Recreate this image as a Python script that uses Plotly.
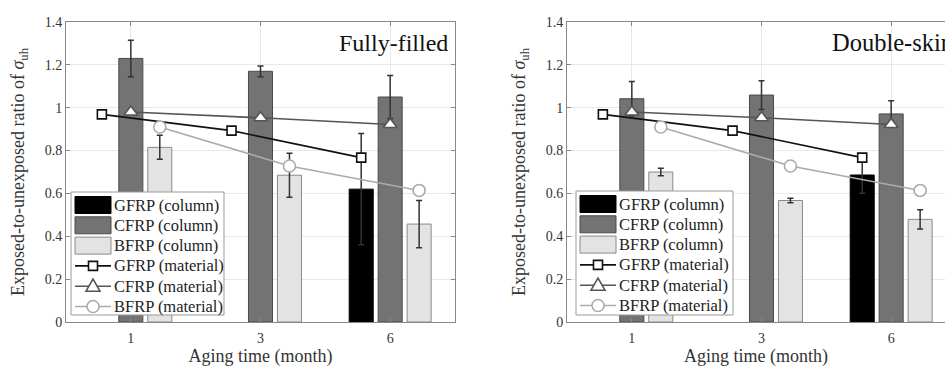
import plotly.graph_objects as go

# ---------------- data ----------------
months = ["1", "3", "6"]
x_idx = [1, 2, 3]

# Fully-filled columns
ff_gfrp_col = [None, None, 0.62]
ff_gfrp_err = [None, None, 0.26]
ff_cfrp_col = [1.23, 1.17, 1.05]
ff_cfrp_err = [0.085, 0.025, 0.10]
ff_bfrp_col = [0.815, 0.685, 0.457]
ff_bfrp_err = [0.056, 0.103, 0.11]

# Double-skin columns
ds_gfrp_col = [None, None, 0.686]
ds_gfrp_err = [None, None, 0.085]
ds_cfrp_col = [1.042, 1.059, 0.971]
ds_cfrp_err = [0.08, 0.067, 0.062]
ds_bfrp_col = [0.70, 0.567, 0.479]
ds_bfrp_err = [0.018, 0.011, 0.045]

# Material (coupon) results
gfrp_mat = [0.969, 0.893, 0.767]
cfrp_mat = [0.98, 0.953, 0.922]
bfrp_mat = [0.91, 0.728, 0.614]

legend_names = ["GFRP (column)", "CFRP (column)", "BFRP (column)",
                "GFRP (material)", "CFRP (material)", "BFRP (material)"]

# ---------------- styling ----------------
FONT = "Liberation Serif"
BARGAP = 0.33
OFF = (1 - BARGAP) / 3.0
C_G, C_C, C_B = "#000000", "#737373", "#e3e3e3"
E_G, E_C, E_B = "#000000", "#4a4a4a", "#8a8a8a"
L_G, L_C, L_B = "#111111", "#555555", "#ababab"
ERR = "#333333"

W, H = 945, 367
TOP, BOT = 22, 322          # plot area top/bottom in px
fig = go.Figure()

panels = [
    dict(xa="x", ya="y",
         g=ff_gfrp_col, ge=ff_gfrp_err, c=ff_cfrp_col, ce=ff_cfrp_err,
         b=ff_bfrp_col, be=ff_bfrp_err),
    dict(xa="x2", ya="y2",
         g=ds_gfrp_col, ge=ds_gfrp_err, c=ds_cfrp_col, ce=ds_cfrp_err,
         b=ds_bfrp_col, be=ds_bfrp_err),
]

for p in panels:
    for name, vals, errs, fill, edge in [
        (legend_names[0], p["g"], p["ge"], C_G, E_G),
        (legend_names[1], p["c"], p["ce"], C_C, E_C),
        (legend_names[2], p["b"], p["be"], C_B, E_B),
    ]:
        fig.add_trace(go.Bar(
            x=x_idx, y=vals, name=name, xaxis=p["xa"], yaxis=p["ya"],
            showlegend=False,
            marker=dict(color=fill, line=dict(color=edge, width=1)),
            error_y=dict(type="data", array=errs, visible=True,
                         color=ERR, thickness=1.5, width=3),
        ))
    for name, vals, dx, col, sym, msize in [
        (legend_names[3], gfrp_mat, -OFF, L_G, "square", 9),
        (legend_names[4], cfrp_mat, 0.0, L_C, "triangle-up", 12),
        (legend_names[5], bfrp_mat, OFF, L_B, "circle", 12),
    ]:
        fig.add_trace(go.Scatter(
            x=[v + dx for v in x_idx], y=vals, name=name, mode="lines+markers",
            xaxis=p["xa"], yaxis=p["ya"], showlegend=False,
            line=dict(color=col, width=1.6),
            marker=dict(symbol=sym, size=msize, color="white",
                        line=dict(color=col, width=1.6)),
        ))

x1_dom = [66 / W, 455 / W]
x2_dom = [567 / W, 1.0]
px_per_unit = (455 - 66) / 3.0
x2_max = 0.5 + (945 - 567) / px_per_unit

axis_common = dict(
    showline=True, linecolor="#888888", linewidth=1,
    ticks="inside", ticklen=4, tickcolor="#888888",
    showgrid=True, gridcolor="#e8e8e8", gridwidth=1,
    tickfont=dict(family=FONT, size=14, color="#333333"),
    zeroline=False, automargin=False,
)


# ---------------- helpers: px -> paper fraction ----------------
def px(x):
    return x / W


def py(y):
    return (BOT - y) / (BOT - TOP)


shapes = []
annotations = []
legend_styles = [
    ("bar", C_G, E_G, None),
    ("bar", C_C, E_C, None),
    ("bar", C_B, E_B, None),
    ("line", L_G, L_G, "square"),
    ("line", L_C, L_C, "triangle"),
    ("line", L_B, L_B, "circle"),
]
for bx0, by0, bx1, by1, row0 in [(71, 192, 224, 315, 205.0),
                                  (576, 191, 733, 315, 204.0)]:
    shapes.append(dict(type="rect", xref="paper", yref="paper",
                       x0=px(bx0), x1=px(bx1), y0=py(by1), y1=py(by0),
                       fillcolor="white", line=dict(color="#999999", width=1),
                       layer="above"))
    sx0, sx1 = bx0 + 4, bx0 + 40
    sxc = (sx0 + sx1) / 2
    for i, (name, (kind, fill, edge, mk)) in enumerate(zip(legend_names, legend_styles)):
        yc = row0 + i * 20.3
        if kind == "bar":
            shapes.append(dict(type="rect", xref="paper", yref="paper",
                               x0=px(sx0), x1=px(sx1), y0=py(yc + 8.5), y1=py(yc - 8.5),
                               fillcolor=fill, line=dict(color=edge, width=1),
                               layer="above"))
        else:
            shapes.append(dict(type="line", xref="paper", yref="paper",
                               x0=px(sx0), x1=px(sx1), y0=py(yc), y1=py(yc),
                               line=dict(color=edge, width=1.6), layer="above"))
            if mk == "square":
                shapes.append(dict(type="rect", xref="paper", yref="paper",
                                   x0=px(sxc - 4.5), x1=px(sxc + 4.5),
                                   y0=py(yc + 4.5), y1=py(yc - 4.5),
                                   fillcolor="white", line=dict(color=edge, width=1.6),
                                   layer="above"))
            elif mk == "circle":
                shapes.append(dict(type="circle", xref="paper", yref="paper",
                                   x0=px(sxc - 6), x1=px(sxc + 6),
                                   y0=py(yc + 6), y1=py(yc - 6),
                                   fillcolor="white", line=dict(color=edge, width=1.6),
                                   layer="above"))
            else:
                path = "M {:.5f} {:.5f} L {:.5f} {:.5f} L {:.5f} {:.5f} Z".format(
                    px(sxc - 7), py(yc + 5), px(sxc + 7), py(yc + 5), px(sxc), py(yc - 7))
                shapes.append(dict(type="path", xref="paper", yref="paper", path=path,
                                   fillcolor="white", line=dict(color=edge, width=1.6),
                                   layer="above"))
        annotations.append(dict(text=name, xref="paper", yref="paper",
                                x=px(bx0 + 41), y=py(yc), xanchor="left",
                                yanchor="middle", showarrow=False,
                                font=dict(family=FONT, size=16.5, color="#222222")))

annotations += [
    dict(text="Fully-filled", xref="x domain", yref="y domain",
         x=(450 - 66) / 389, y=py(43), xanchor="right",
         yanchor="middle", showarrow=False,
         font=dict(family=FONT, size=24, color="#111111")),
    dict(text="Double-skin", xref="x2 domain", yref="y2 domain",
         x=(955 - 567) / 378, y=py(43), xanchor="right",
         yanchor="middle", showarrow=False,
         font=dict(family=FONT, size=24.5, color="#111111")),
]

xtitle = dict(text="Aging time (month)",
              font=dict(family=FONT, size=18, color="#333333"), standoff=11)
ytitle = dict(text="Exposed-to-unexposed ratio of <i>σ</i><sub>uh</sub>",
              font=dict(family=FONT, size=18, color="#333333"), standoff=15)

fig.update_layout(
    width=W, height=H,
    margin=dict(l=0, r=0, t=TOP, b=H - BOT, autoexpand=False),
    paper_bgcolor="white", plot_bgcolor="white",
    barmode="group", bargap=BARGAP, bargroupgap=0.17,
    font=dict(family=FONT, color="#222222"),
    showlegend=False,
    xaxis=dict(domain=x1_dom, anchor="y", range=[0.5, 3.5],
               tickvals=x_idx, ticktext=months, mirror="ticks",
               ticklabelstandoff=3, title=xtitle, **axis_common),
    yaxis=dict(domain=[0, 1], anchor="x", range=[0, 1.4], dtick=0.2,
               mirror="ticks", title=ytitle, **axis_common),
    xaxis2=dict(domain=x2_dom, anchor="y2", range=[0.5, x2_max],
                tickvals=x_idx, ticktext=months, mirror="ticks",
                ticklabelstandoff=3, title=xtitle, **axis_common),
    yaxis2=dict(domain=[0, 1], anchor="x2", range=[0, 1.4], dtick=0.2,
                mirror=False, title=ytitle, **axis_common),
    shapes=shapes,
    annotations=annotations,
)

post = (
    "var d=document.getElementById('{plot_id}');"
    "d.style.position='fixed';d.style.top='0px';d.style.left='0px';"
    "document.body.style.margin='0px';document.body.style.padding='0px';"
    "document.documentElement.style.overflow='hidden';"
    "document.body.style.overflow='hidden';"
)
fig.write_html("out.html", config={"displayModeBar": False}, post_script=post)
